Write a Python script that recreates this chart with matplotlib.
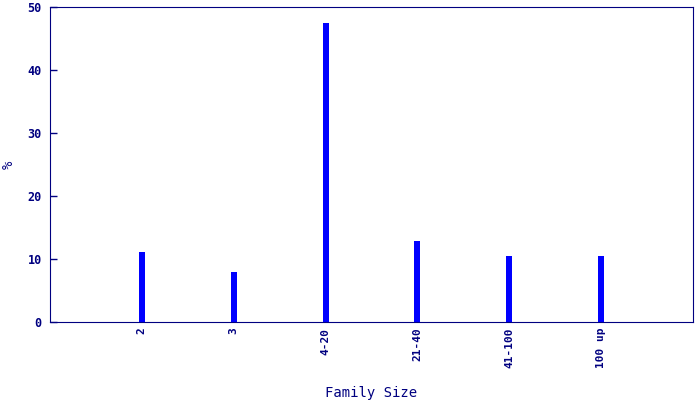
import matplotlib
matplotlib.use("Agg")
import matplotlib.pyplot as plt

categories = ["2", "3", "4-20", "21-40", "41-100", "100 up"]
percent = [11.1, 7.9, 47.5, 12.9, 10.5, 10.5]

navy = "#000080"
plt.rcParams['font.family'] = ['DejaVu Sans Mono']
plt.rcParams['font.weight'] = 'bold'

fig = plt.figure(figsize=(7, 4), dpi=100)
ax = fig.add_axes([50/700, 78/400, 643/700, 315/400])

x = list(range(1, len(categories) + 1))
ax.bar(x, percent, width=0.065, color="#0000ff")

ax.set_xlim(0, 7)
ax.set_ylim(0, 50)
ax.set_xticks(x)
ax.set_xticklabels(categories, rotation=90, fontsize=8, color=navy)
ax.set_yticks([0, 10, 20, 30, 40, 50])
ax.tick_params(axis="y", direction="in", length=5, color=navy, labelcolor=navy, labelsize=8.5, width=1, pad=6)
ax.tick_params(axis="x", length=0, pad=4)
for s in ax.spines.values():
    s.set_color(navy)

ax.set_xlabel("Family Size", color=navy, fontsize=10, fontweight="normal", va="center")
ax.xaxis.set_label_coords(0.5, -71/315)
ax.set_ylabel("%", color=navy, fontsize=10, fontweight="normal", va="center")
ax.yaxis.set_label_coords(-41/643, 0.5)

fig.savefig("out.png", dpi=100)
